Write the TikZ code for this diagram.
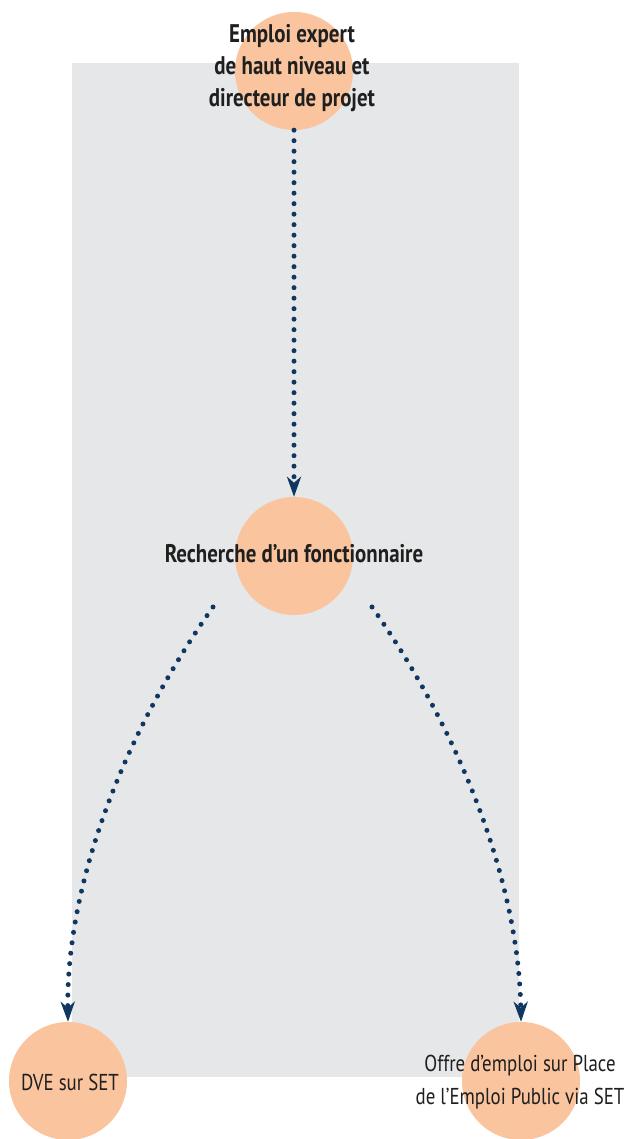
\documentclass[tikz,border=0pt]{standalone}
\usepackage{fontspec}
\setmainfont{PT Sans}[FakeStretch=0.82]
\usepackage{tikz}
\usetikzlibrary{arrows.meta}

\definecolor{peach}{HTML}{F9C49E}
\definecolor{navy}{HTML}{103760}
\definecolor{panel}{HTML}{E6E7E9}

\begin{document}
\begin{tikzpicture}[x=1pt,y=1pt,
    disc/.style={circle,fill=peach,minimum size=118pt,inner sep=0pt},
    boldlabel/.style={font=\fontsize{25.5}{32}\selectfont\bfseries,align=center,text=black!88},
    plainlabel/.style={font=\fontsize{23}{33}\selectfont,align=center,text=black!88},
    dotline/.style={navy,line width=5pt,line cap=round,dash pattern=on 0pt off 10.5pt,
      -{Stealth[length=20pt,width=14pt,inset=6pt]}}]
    \useasboundingbox (0,0) rectangle (627,1139);
    \fill[panel] (72,62) rectangle (519,1076);

    \coordinate (leftstart) at (213,532);
    \coordinate (rightstart) at (372,532);

    \node[disc] (expert) at (294,1068) {};
    \node[disc] (search) at (294,583) {};
    \node[disc] (dve) at (68,58) {};
    \node[disc] (offer) at (521,58) {};

    \node[boldlabel] (experttext) at (292,1071) {Emploi expert\\de haut niveau et\\directeur de projet};
    \node[boldlabel] (searchtext) at (294,585) {Recherche d’un fonctionnaire};
    \node[plainlabel] (dvetext) at (70,57) {DVE sur SET};
    \node[plainlabel] (offertext) at (520,57) {Offre d’emploi sur Place\\de l’Emploi Public via SET};

    \draw[dotline] (expert.south) -- (search.north);
    \draw[dotline] (leftstart) .. controls (120,400) and (66,250) .. (dve.north);
    \draw[dotline] (rightstart) .. controls (465,400) and (519,250) .. (offer.north);
\end{tikzpicture}
\end{document}
